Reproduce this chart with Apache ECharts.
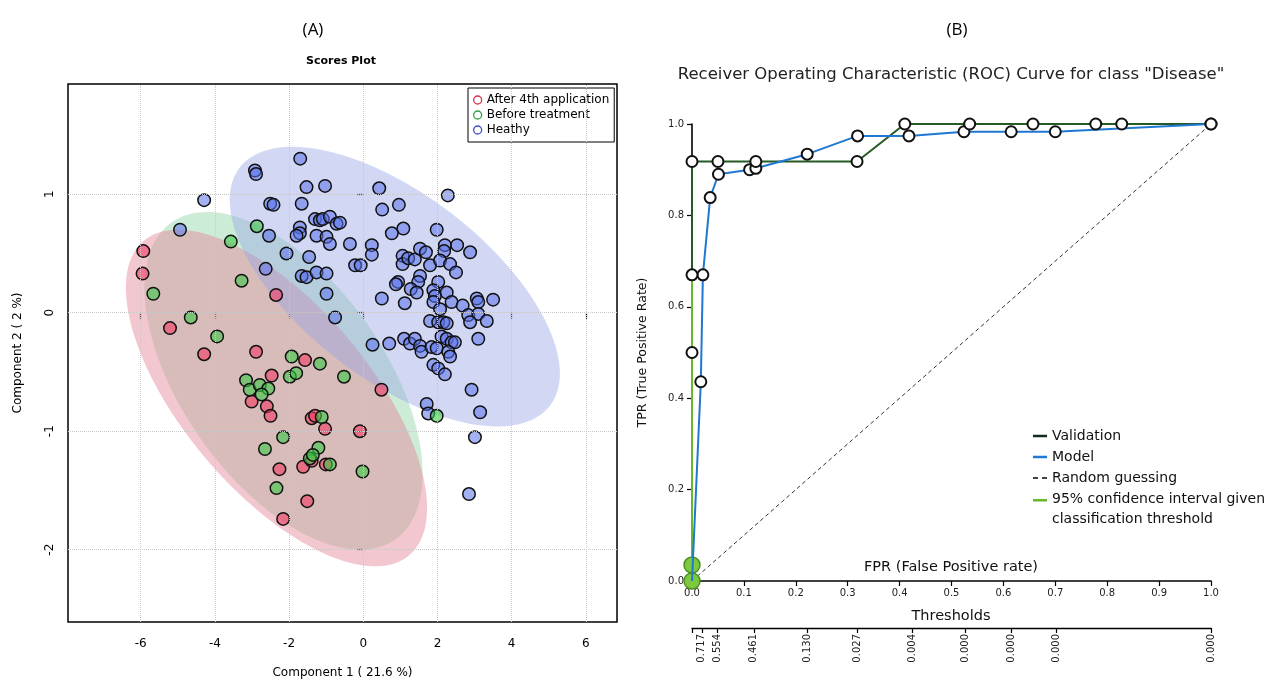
<!DOCTYPE html>
<html>
<head>
<meta charset="utf-8">
<script src="https://cdn.jsdelivr.net/npm/echarts@6/dist/echarts.min.js"></script>
<style>html,body{margin:0;padding:0;background:#fff}#c{width:1274px;height:684px}</style>
</head>
<body>
<div id="c"></div>
<script>
// ---------- Panel A: PCA scores ----------
const xTicksA = [-6, -4, -2, 0, 2, 4, 6];
const yTicksA = [-2, -1, 0, 1];
const after4th = [[-5.93,0.52],[-5.95,0.33],[-2.35,0.15],[-5.21,-0.13],[-4.29,-0.35],[-2.89,-0.33],[-1.57,-0.40],[-2.47,-0.53],[-3.01,-0.75],[-2.60,-0.79],[-2.50,-0.87],[-1.39,-0.89],[-1.30,-0.87],[-1.03,-0.98],[-0.09,-1.00],[0.49,-0.65],[-2.26,-1.32],[-1.62,-1.30],[-1.01,-1.28],[-1.39,-1.25],[-1.51,-1.59],[-2.16,-1.74]];
const beforeTreatment = [[-2.87,0.73],[-3.57,0.60],[-3.28,0.27],[-5.66,0.16],[-4.65,-0.04],[-3.94,-0.20],[-1.93,-0.37],[-1.17,-0.43],[-1.98,-0.54],[-1.81,-0.51],[-3.16,-0.57],[-3.06,-0.65],[-2.79,-0.61],[-2.56,-0.64],[-2.74,-0.69],[-0.52,-0.54],[-2.16,-1.05],[-1.12,-0.88],[-1.21,-1.14],[-2.65,-1.15],[-1.44,-1.23],[-1.36,-1.20],[-0.90,-1.28],[-0.02,-1.34],[-2.34,-1.48],[1.98,-0.87]];
const healthy = [[-1.70,1.30],[-2.92,1.20],[-2.89,1.17],[-4.29,0.95],[-1.53,1.06],[-1.03,1.07],[-2.51,0.92],[-2.42,0.91],[-1.66,0.92],[-4.94,0.70],[-2.54,0.65],[-1.71,0.72],[-1.71,0.67],[-1.80,0.65],[-1.30,0.79],[-1.17,0.78],[-1.26,0.65],[-2.07,0.50],[-1.46,0.47],[-2.63,0.37],[-1.66,0.31],[-1.53,0.30],[-1.26,0.34],[-0.99,0.33],[-0.99,0.16],[0.43,1.05],[2.28,0.99],[0.51,0.87],[0.96,0.91],[1.08,0.71],[0.77,0.67],[1.98,0.70],[-1.09,0.79],[-0.90,0.81],[-0.72,0.75],[-0.63,0.76],[-0.99,0.64],[-0.90,0.58],[-0.36,0.58],[0.23,0.57],[0.23,0.49],[-0.22,0.40],[-0.07,0.40],[1.06,0.48],[1.06,0.41],[1.21,0.46],[1.39,0.45],[1.53,0.54],[1.69,0.51],[1.80,0.40],[2.20,0.57],[2.18,0.52],[2.53,0.57],[2.88,0.51],[2.07,0.44],[2.34,0.41],[2.50,0.34],[0.94,0.26],[0.88,0.24],[1.53,0.31],[1.48,0.26],[2.02,0.26],[1.28,0.20],[1.44,0.17],[1.89,0.19],[2.25,0.17],[0.50,0.12],[3.06,0.12],[3.50,0.11],[1.12,0.08],[-0.76,-0.04],[1.93,0.14],[2.38,0.09],[1.89,0.09],[2.07,0.03],[2.68,0.06],[2.83,-0.02],[3.10,0.09],[3.10,-0.01],[3.33,-0.07],[2.88,-0.08],[1.80,-0.07],[2.02,-0.08],[2.16,-0.08],[2.25,-0.09],[3.10,-0.22],[0.25,-0.27],[0.70,-0.26],[1.10,-0.22],[1.26,-0.26],[1.39,-0.22],[1.53,-0.28],[1.57,-0.33],[1.84,-0.29],[1.98,-0.30],[2.11,-0.20],[2.25,-0.22],[2.38,-0.25],[2.47,-0.25],[2.29,-0.33],[2.34,-0.37],[1.89,-0.44],[2.02,-0.47],[2.20,-0.52],[2.92,-0.65],[1.71,-0.77],[1.75,-0.85],[3.15,-0.84],[3.01,-1.05],[2.85,-1.53]];
// confidence ellipses: [centerX, centerY, halfWidthX, halfHeightY, phase]
const ellipseAfter4th = [-2.34, -0.72, 4.06, 1.42, 2.285];
const ellipseBefore = [-2.15, -0.575, 3.75, 1.425, 2.153];
const ellipseHealthy = [0.85, 0.22, 4.45, 1.18, 2.240];

// ---------- Panel B: ROC ----------
const rocValidation = [[0,0],[0,0.5],[0,0.67],[0,0.918],[0.05,0.918],[0.123,0.918],[0.318,0.918],[0.41,1],[0.535,1],[0.657,1],[0.778,1],[0.828,1],[1,1]];
const rocModel = [[0,0],[0.017,0.436],[0.021,0.67],[0.035,0.839],[0.051,0.89],[0.111,0.9],[0.123,0.903],[0.222,0.934],[0.319,0.974],[0.418,0.974],[0.524,0.983],[0.615,0.983],[0.70,0.983],[1,1]];
const rocCI = [[0,0],[0,0.035],[0,0.67]];
const randomGuess = [[0,0],[1,1]];
const thresholdFPR = [0.019,0.049,0.119,0.222,0.318,0.424,0.526,0.615,0.702,1.0];
const thresholdLabels = ['0.717','0.554','0.461','0.130','0.027','0.004','0.000','0.000','0.000','0.000'];

const F = 'DejaVu Sans';
const chart = echarts.init(document.getElementById('c'), null, {renderer: 'canvas'});

function ellipseSeries(params, fill) {
  return {
    type: 'custom', xAxisIndex: 0, yAxisIndex: 0, silent: true, clip: true,
    data: [params], encode: {x: 0, y: 1},
    renderItem: function (p, api) {
      const cx = api.value(0), cy = api.value(1), ax = api.value(2), by = api.value(3), ph = api.value(4);
      const pts = [];
      for (let i = 0; i < 180; i++) {
        const t = i / 180 * Math.PI * 2;
        pts.push(api.coord([cx + ax * Math.cos(t), cy + by * Math.cos(t - ph)]));
      }
      return {type: 'polygon', shape: {points: pts}, style: {fill: fill}};
    }
  };
}

const ptStyle = (c) => ({color: c, borderColor: '#111', borderWidth: 1.5, opacity: 1});
// legend icons: 14x20 boxes, line drawn in the middle (or at the top for the two-line entry)
const iconMid = 'path://M0,0H0.01V0.01H0Z M0,8.8H14V11.2H0Z M13.99,19.99H14V20H13.99Z';
const iconDash = 'path://M0,0H0.01V0.01H0Z M0,9H5V11H0Z M9,9H14V11H9Z M13.99,19.99H14V20H13.99Z';
const iconTop = 'path://M0,0H14V2.4H0Z M13.99,19.99H14V20H13.99Z';

const option = {
  animation: false,
  backgroundColor: '#fff',
  textStyle: {fontFamily: F},
  title: [
    {text: '(A)', left: 313, top: 22, textAlign: 'center', padding: 0, textStyle: {fontFamily: 'Open Sans', fontSize: 17, fontWeight: 'normal', color: '#000'}},
    {text: '(B)', left: 957, top: 22, textAlign: 'center', padding: 0, textStyle: {fontFamily: 'Open Sans', fontSize: 17, fontWeight: 'normal', color: '#000'}},
    {text: 'Scores Plot', left: 341, top: 56, textAlign: 'center', padding: 0, textStyle: {fontFamily: F, fontSize: 11, fontWeight: 'bold', color: '#000'}},
    {text: 'Receiver Operating Characteristic (ROC) Curve for class "Disease"', left: 951, top: 66, textAlign: 'center', padding: 0, textStyle: {fontFamily: F, fontSize: 16.5, fontWeight: 'normal', color: '#222'}},
    {text: 'FPR (False Positive rate)', left: 951, top: 560, textAlign: 'center', padding: 0, textStyle: {fontFamily: F, fontSize: 14.5, fontWeight: 'normal', color: '#111'}},
    {text: 'Thresholds', left: 951, top: 609, textAlign: 'center', padding: 0, textStyle: {fontFamily: F, fontSize: 14.5, fontWeight: 'normal', color: '#111'}}
  ],
  legend: [
    {
      left: 468, top: 88, orient: 'vertical', padding: [5, 5, 5, 5], itemGap: 1,
      itemWidth: 8, itemHeight: 8, borderColor: '#000', borderWidth: 1, backgroundColor: '#fff',
      textStyle: {fontFamily: F, fontSize: 12, color: '#000', lineHeight: 14},
      selectedMode: false,
      data: [
        {name: 'After 4th application', icon: 'circle', itemStyle: {color: 'rgba(0,0,0,0)', borderColor: '#d8304f', borderWidth: 1.3}},
        {name: 'Before treatment', icon: 'circle', itemStyle: {color: 'rgba(0,0,0,0)', borderColor: '#2fa040', borderWidth: 1.3}},
        {name: 'Heathy', icon: 'circle', itemStyle: {color: 'rgba(0,0,0,0)', borderColor: '#3a4fd0', borderWidth: 1.3}}
      ]
    },
    {
      left: 1033, top: 426, orient: 'vertical', padding: 0, itemGap: 1,
      itemWidth: 14, itemHeight: 20, selectedMode: false,
      textStyle: {fontFamily: F, fontSize: 14, color: '#111', lineHeight: 20},
      data: [
        {name: 'Validation', icon: iconMid, itemStyle: {color: '#1a2a1a', borderWidth: 0}},
        {name: 'Model', icon: iconMid, itemStyle: {color: '#1f78d1', borderWidth: 0}},
        {name: 'Random guessing', icon: iconDash, itemStyle: {color: '#444', borderWidth: 0}},
        {name: '95% confidence interval given\nclassification threshold', icon: iconTop, itemStyle: {color: '#66b82d', borderWidth: 0}}
      ]
    }
  ],
  grid: [
    {left: 68, top: 84, width: 549, height: 540, show: true, borderColor: '#000', borderWidth: 1.5, backgroundColor: 'rgba(0,0,0,0)'},
    {left: 692, top: 124, width: 519, height: 457, show: false}
  ],
  xAxis: [
    {gridIndex: 0, type: 'value', min: -7.96, max: 6.84,
      axisLine: {show: false}, splitLine: {show: false},
      axisTick: {show: true, customValues: xTicksA, length: 6, lineStyle: {color: '#000', width: 1.2}},
      axisLabel: {customValues: xTicksA, fontSize: 12, color: '#000', margin: 16, fontFamily: F},
      name: 'Component 1 ( 21.6 %)', nameLocation: 'middle', nameGap: 45,
      nameTextStyle: {fontSize: 12, color: '#000', fontFamily: F}},
    {gridIndex: 1, type: 'value', min: 0, max: 1, interval: 0.1,
      axisLine: {show: true, onZero: false, lineStyle: {color: '#000', width: 1.6}},
      axisTick: {show: true, length: 5, lineStyle: {color: '#000', width: 1.2}},
      axisLabel: {fontSize: 10, color: '#222', margin: 7, formatter: v => v.toFixed(1)},
      splitLine: {show: false}},
    {gridIndex: 1, type: 'value', min: 0, max: 1, position: 'bottom', offset: 47,
      axisLine: {show: true, onZero: false, lineStyle: {color: '#000', width: 1.4}},
      axisTick: {show: true, length: 5, customValues: [0].concat(thresholdFPR), lineStyle: {color: '#000', width: 1.2}},
      axisLabel: {customValues: thresholdFPR, rotate: 90, fontSize: 10, color: '#222', margin: 6,
        formatter: v => thresholdLabels[thresholdFPR.indexOf(v)]},
      splitLine: {show: false}}
  ],
  yAxis: [
    {gridIndex: 0, type: 'value', min: -2.61, max: 1.93,
      axisLine: {show: false}, splitLine: {show: false},
      axisTick: {show: true, customValues: yTicksA, length: 6, lineStyle: {color: '#000', width: 1.2}},
      axisLabel: {customValues: yTicksA, rotate: 90, fontSize: 12, color: '#000', margin: 12, fontFamily: F},
      name: 'Component 2 ( 2 %)', nameLocation: 'middle', nameGap: 44,
      nameTextStyle: {fontSize: 12, color: '#000', fontFamily: F}},
    {gridIndex: 1, type: 'value', min: 0, max: 1, interval: 0.2,
      axisLine: {show: true, onZero: false, lineStyle: {color: '#000', width: 1.6}},
      axisTick: {show: true, length: 5, lineStyle: {color: '#000', width: 1.2}},
      axisLabel: {fontSize: 10, color: '#222', margin: 8, formatter: v => v.toFixed(1)},
      splitLine: {show: false},
      name: 'TPR (True Positive Rate)', nameLocation: 'middle', nameGap: 43,
      nameTextStyle: {fontSize: 12.6, color: '#111', fontFamily: F}}
  ],
  series: [
    {type: 'line', xAxisIndex: 0, yAxisIndex: 0, data: [], silent: true, z: 1,
      markLine: {silent: true, symbol: ['none', 'none'], label: {show: false},
        lineStyle: {color: '#c8c8c8', type: 'dotted', width: 1},
        data: xTicksA.map(v => ({xAxis: v})).concat(yTicksA.map(v => ({yAxis: v})))}},
    Object.assign(ellipseSeries(ellipseBefore, 'rgba(144,213,166,0.45)'), {z: 2}),
    Object.assign(ellipseSeries(ellipseAfter4th, 'rgba(228,130,150,0.45)'), {z: 2}),
    Object.assign(ellipseSeries(ellipseHealthy, 'rgba(147,162,228,0.42)'), {z: 2}),
    {name: 'Heathy', type: 'scatter', xAxisIndex: 0, yAxisIndex: 0, z: 3, symbolSize: 12.5,
      itemStyle: ptStyle('rgba(90,115,235,0.55)'), data: healthy},
    {name: 'After 4th application', type: 'scatter', xAxisIndex: 0, yAxisIndex: 0, z: 3, symbolSize: 12.5,
      itemStyle: ptStyle('rgba(240,60,100,0.6)'), data: after4th},
    {name: 'Before treatment', type: 'scatter', xAxisIndex: 0, yAxisIndex: 0, z: 3, symbolSize: 12.5,
      itemStyle: ptStyle('rgba(60,200,70,0.6)'), data: beforeTreatment},

    {name: 'Random guessing', type: 'line', xAxisIndex: 1, yAxisIndex: 1, data: randomGuess, z: 2,
      showSymbol: false, silent: true, lineStyle: {color: '#333', width: 1, type: [4, 3]}},
    {name: 'Validation', type: 'line', xAxisIndex: 1, yAxisIndex: 1, data: rocValidation, z: 3,
      showSymbol: false, silent: true, clip: false, lineStyle: {color: '#245a24', width: 2}},
    {name: '95% confidence interval given\nclassification threshold', type: 'line', xAxisIndex: 1, yAxisIndex: 1, z: 4,
      data: rocCI, silent: true, clip: false, symbol: 'circle', showSymbol: true, showAllSymbol: true,
      symbolSize: (v) => (v[1] < 0.5 ? 16 : 0),
      lineStyle: {color: '#66b82d', width: 2},
      itemStyle: {color: '#7cc93f', borderColor: '#4e8f22', borderWidth: 1.5}},
    {name: 'Model', type: 'line', xAxisIndex: 1, yAxisIndex: 1, data: rocModel, z: 5, clip: false,
      silent: true, symbol: 'circle', showAllSymbol: true,
      symbolSize: (v) => (v[1] === 0 ? 0 : 11),
      lineStyle: {color: '#1f78d1', width: 2},
      itemStyle: {color: '#fff', borderColor: '#111', borderWidth: 2}},
    {name: 'Validation', type: 'scatter', xAxisIndex: 1, yAxisIndex: 1, data: rocValidation.slice(1), z: 6,
      clip: false, silent: true, symbolSize: 11,
      itemStyle: {color: '#fff', borderColor: '#111', borderWidth: 2, opacity: 1}}
  ]
};
chart.setOption(option);
</script>
</body>
</html>
